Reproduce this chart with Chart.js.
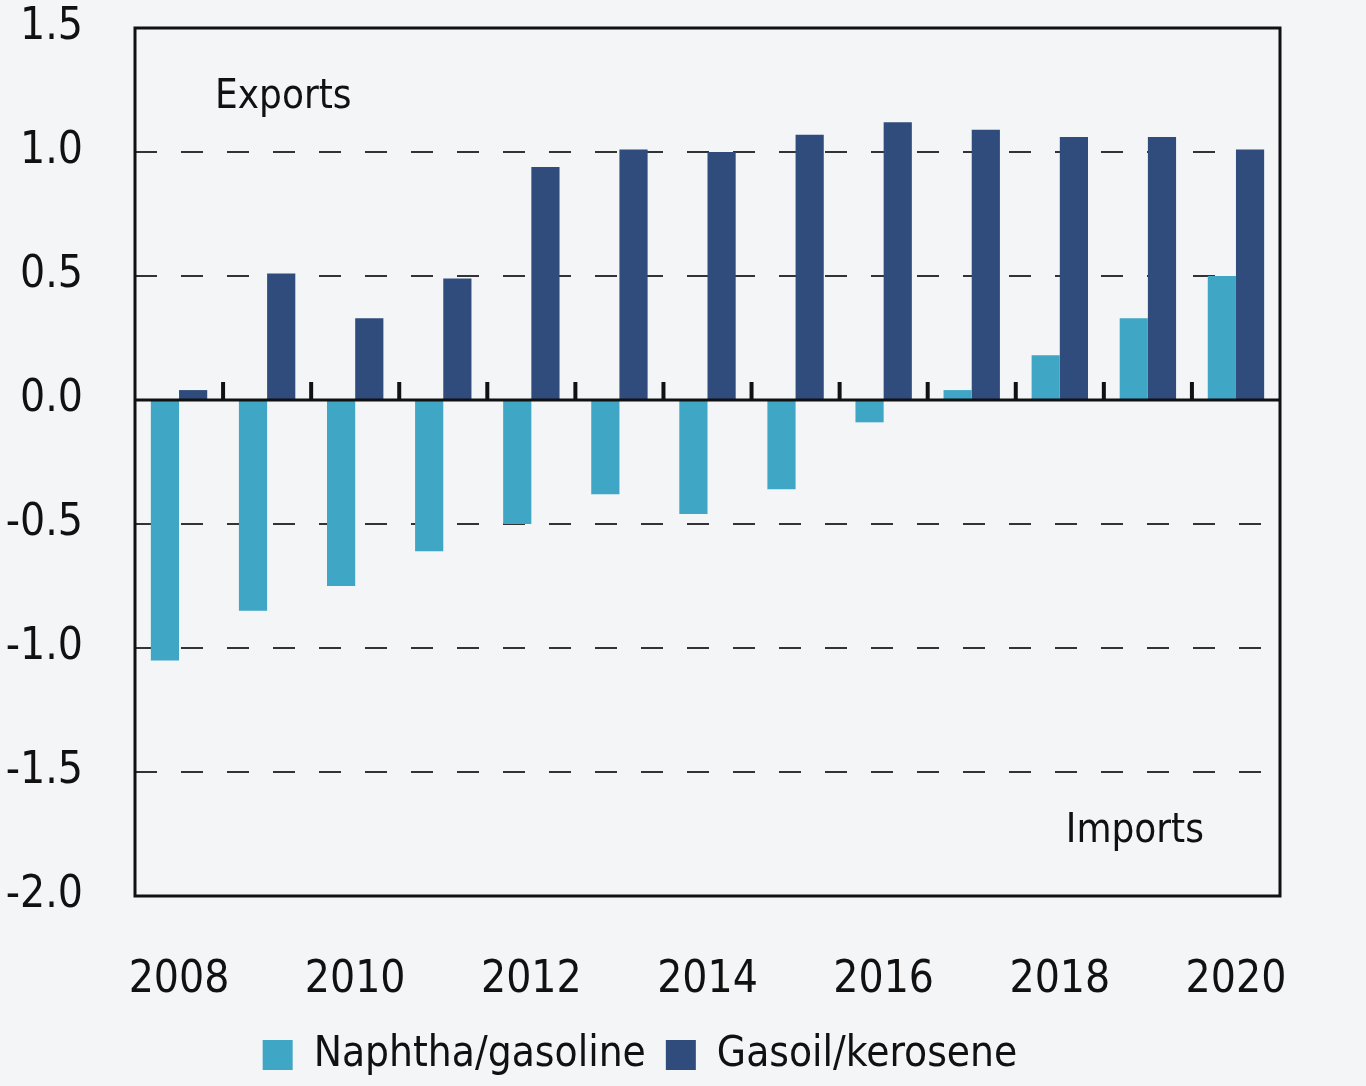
<!DOCTYPE html>
<html>
<head>
<meta charset="utf-8">
<script src="https://cdn.jsdelivr.net/npm/chart.js@4"></script>
<style>
    html, body { margin: 0; padding: 0; background: #f3f5f7; }
    #wrap { width: 1366px; height: 1086px; }
</style>
</head>
<body>
<div id="wrap"><canvas id="tradeChart" width="1366" height="1086"></canvas></div>
<script>
// 数据
const years = ['2008', '2009', '2010', '2011', '2012', '2013', '2014', '2015', '2016', '2017', '2018', '2019', '2020'];
const naphtha = [-1.05, -0.85, -0.75, -0.61, -0.50, -0.38, -0.46, -0.36, -0.09, 0.04, 0.18, 0.33, 0.50];
const gasoil = [0.04, 0.51, 0.33, 0.49, 0.94, 1.01, 1.00, 1.07, 1.12, 1.09, 1.06, 1.06, 1.01];

const FONT = '"Liberation Sans Narrow", "DejaVu Sans Condensed", "Liberation Sans", sans-serif';

// 边框、零线、分隔刻度和文字
const framePlugin = {
    id: 'frame',
    afterDatasetsDraw(chart) {
        const ctx = chart.ctx;
        const area = chart.chartArea;
        const x = chart.scales.x;
        const y = chart.scales.y;
        const y0 = y.getPixelForValue(0);
        ctx.save();
        ctx.strokeStyle = '#111';
        ctx.lineWidth = 3;
        ctx.strokeRect(area.left, area.top, area.right - area.left, area.bottom - area.top);
        ctx.beginPath();
        ctx.moveTo(area.left, y0);
        ctx.lineTo(area.right, y0);
        ctx.stroke();
        // 组之间的小刻度
        ctx.lineWidth = 4;
        for (let i = 0; i < years.length - 1; i++) {
            const bx = (x.getPixelForValue(i) + x.getPixelForValue(i + 1)) / 2;
            ctx.beginPath();
            ctx.moveTo(bx, y0);
            ctx.lineTo(bx, y0 - 18);
            ctx.stroke();
        }
        ctx.fillStyle = '#111';
        ctx.font = '40px ' + FONT;
        ctx.textBaseline = 'middle';
        ctx.textAlign = 'left';
        ctx.fillText('Exports', x.getPixelForValue(0) + 36, y.getPixelForValue(1.22));
        ctx.fillText('Imports', x.getPixelForValue(10) + 6, y.getPixelForValue(-1.74));
        ctx.restore();
    }
};

new Chart(document.getElementById('tradeChart').getContext('2d'), {
    type: 'bar',
    data: {
        labels: years,
        datasets: [{
            label: 'Naphtha/gasoline',
            data: naphtha,
            backgroundColor: '#3fa6c6',
            barPercentage: 1.0,
            categoryPercentage: 0.64
        }, {
            label: 'Gasoil/kerosene',
            data: gasoil,
            backgroundColor: '#2f4c7c',
            barPercentage: 1.0,
            categoryPercentage: 0.64
        }]
    },
    options: {
        responsive: false,
        animation: false,
        layout: { padding: { top: 28, right: 86, bottom: 0, left: 0 } },
        plugins: {
            title: { display: false },
            tooltip: { enabled: false },
            legend: {
                position: 'bottom',
                labels: {
                    font: { family: FONT, size: 42 },
                    color: '#111',
                    boxWidth: 30,
                    boxHeight: 30,
                    padding: 20
                }
            }
        },
        scales: {
            x: {
                grid: { display: false, drawTicks: false },
                border: { display: false },
                ticks: {
                    autoSkip: false,
                    maxRotation: 0,
                    padding: 58,
                    color: '#111',
                    font: { family: FONT, size: 44 },
                    callback: function(value, index) {
                        return index % 2 === 0 ? years[index] : '';
                    }
                },
                afterFit: function(scale) { scale.height = 118; }
            },
            y: {
                min: -2,
                max: 1.5,
                grid: {
                    drawTicks: false,
                    lineWidth: 2,
                    color: function(c) {
                        const v = c.tick ? c.tick.value : 0;
                        if (v === 0 || v === 1.5 || v === -2) return 'rgba(0,0,0,0)';
                        return '#333';
                    }
                },
                border: { display: false, dash: [22, 24] },
                ticks: {
                    stepSize: 0.5,
                    padding: 52,
                    color: '#111',
                    font: { family: FONT, size: 44 },
                    callback: function(value) { return value.toFixed(1); }
                },
                afterFit: function(scale) {
                    scale.width = 135;
                    scale.paddingTop = 0;
                    scale.paddingBottom = 0;
                }
            }
        }
    },
    plugins: [framePlugin]
});
</script>
</body>
</html>
